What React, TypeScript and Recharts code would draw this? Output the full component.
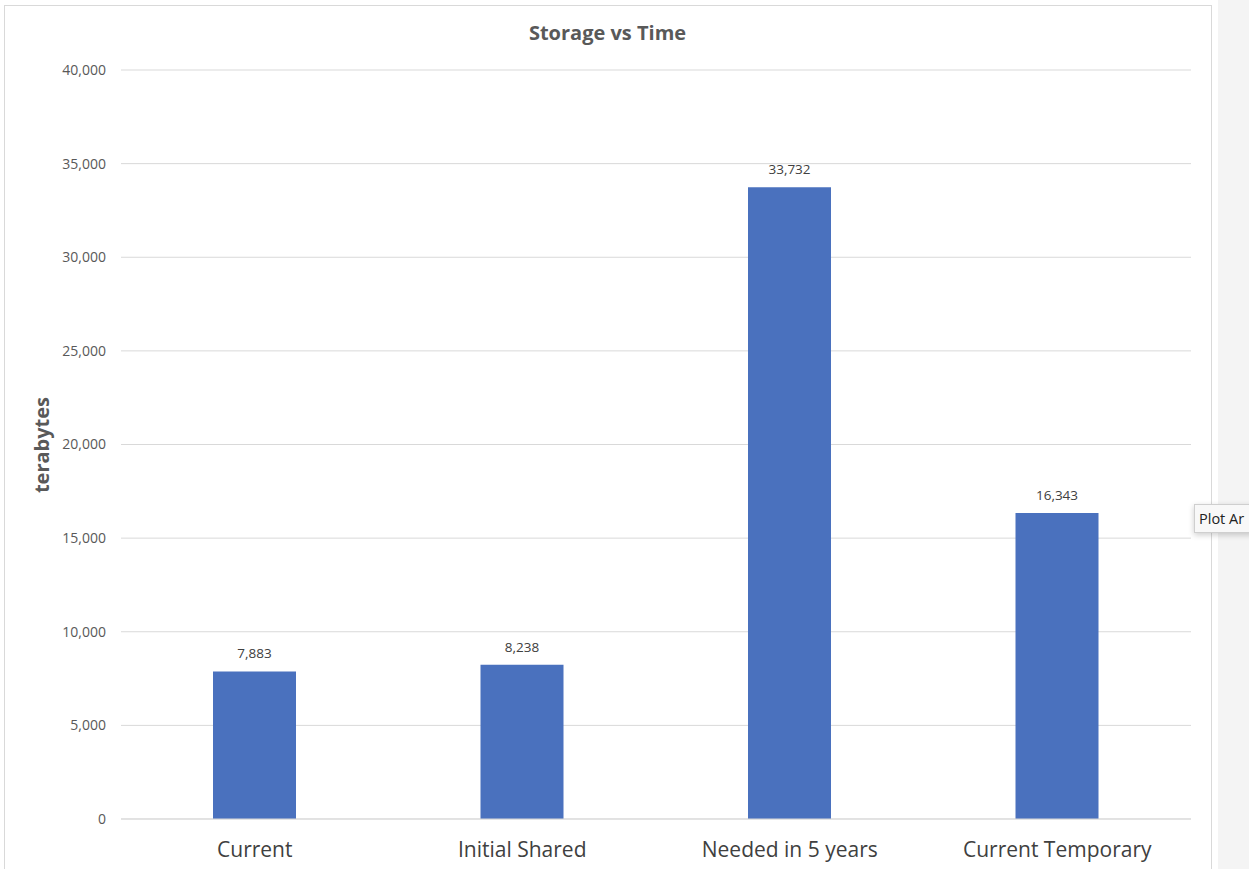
import React from 'react';
import { BarChart, Bar, XAxis, YAxis, CartesianGrid, LabelList } from 'recharts';

const categories = ['Current', 'Initial Shared', 'Needed in 5 years', 'Current Temporary'];
const storageValues = [7883, 8238, 33732, 16343];
const yTicks = [0, 5000, 10000, 15000, 20000, 25000, 30000, 35000, 40000];

const data = categories.map((c, i) => ({ name: c, value: storageValues[i] }));
const fmt = (v: number) => v.toLocaleString('en-US');
const FONT = '"Open Sans", "Noto Sans", sans-serif';

export default function App() {
  return (
    <div style={{ position: 'absolute', left: 0, top: 0, width: 1249, height: 869, background: '#fff', overflow: 'hidden', fontFamily: FONT }}>
      <div style={{ position: 'absolute', left: 1218, top: 0, width: 31, height: 869, background: '#f4f4f4' }} />
      <div style={{ position: 'absolute', left: 4, top: 5, width: 1208, height: 880, border: '1px solid #d9d9d9', boxSizing: 'border-box' }} />
      <div style={{ position: 'absolute', left: 0, top: 0 }}>
        <BarChart width={1249} height={869} data={data} margin={{ top: 70, right: 58, bottom: 0, left: 0 }}>
          <CartesianGrid vertical={false} stroke="#d9d9d9" />
          <XAxis
            dataKey="name"
            axisLine={{ stroke: '#d9d9d9' }}
            tickLine={false}
            height={50}
            tickMargin={17}
            tick={{ fill: '#404040', fontSize: 21, fontFamily: FONT }}
            interval={0}
          />
          <YAxis
            width={121}
            domain={[0, 40000]}
            ticks={yTicks}
            axisLine={false}
            tickLine={false}
            tickMargin={9}
            tickFormatter={fmt}
            tick={{ fill: '#595959', fontSize: 14, fontFamily: FONT }}
          />
          <Bar dataKey="value" fill="#4a71be" barSize={83} isAnimationActive={false}>
            <LabelList dataKey="value" position="top" offset={13} formatter={(v: any) => fmt(Number(v))} style={{ fill: '#404040', fontSize: 13.5, fontFamily: FONT }} />
          </Bar>
        </BarChart>
      </div>
      <div style={{ position: 'absolute', left: 4, width: 1207, top: 20, textAlign: 'center', fontSize: 20, fontWeight: 700, color: '#595959', lineHeight: '26px' }}>
        Storage vs Time
      </div>
      <div style={{ position: 'absolute', left: 42, top: 445, transform: 'translate(-50%, -50%) rotate(-90deg)', fontSize: 20, fontWeight: 700, color: '#595959', whiteSpace: 'nowrap', lineHeight: '26px' }}>
        terabytes
      </div>
      <div style={{ position: 'absolute', left: 1194, top: 504, width: 60, height: 29, paddingLeft: 4, boxSizing: 'border-box', background: '#f8f8f8', border: '1px solid #cfcfcf', boxShadow: '0 2px 6px rgba(0,0,0,0.2)', fontSize: 14.5, lineHeight: '27px', color: '#222', whiteSpace: 'nowrap' }}>
        Plot Ar
      </div>
    </div>
  );
}
